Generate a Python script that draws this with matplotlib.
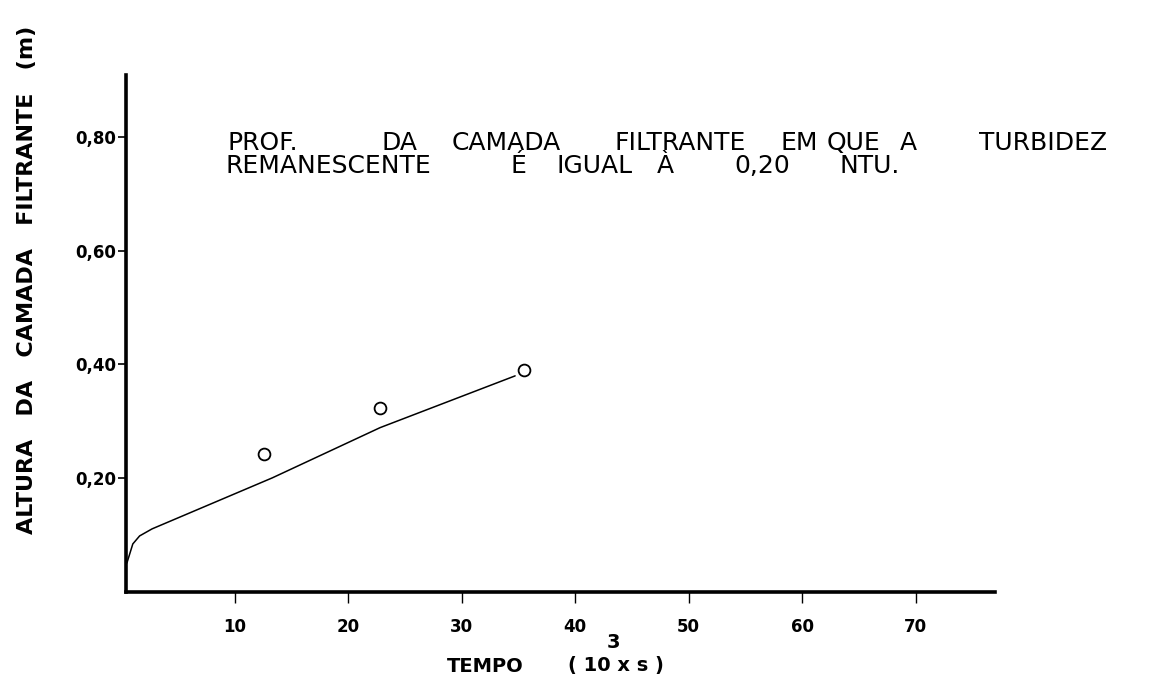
import matplotlib
matplotlib.use("Agg")
import matplotlib.pyplot as plt

# ---- data ----
time_obs = [12.55, 22.8, 35.5]            # 10^3 s
height_obs = [0.243, 0.324, 0.391]        # m

time_curve = [0.48, 1.0, 1.6, 2.7, 13.3, 22.8, 34.7]
height_curve = [0.051, 0.0845, 0.0986, 0.111, 0.2007, 0.289, 0.380]

x_ticks = [10, 20, 30, 40, 50, 60, 70]
x_tick_labels = ["10", "20", "30", "40", "50", "60", "70"]
y_ticks = [0.20, 0.40, 0.60, 0.80]
y_tick_labels = ["0,20", "0,40", "0,60", "0,80"]

# annotation words: (text, x px, baseline y px, horizontal alignment)
note_line1 = [("PROF.", 227, 150, "left"), ("DA", 400, 150, "center"),
              ("CAMADA", 506, 150, "center"), ("FILTRANTE", 680, 150, "center"),
              ("EM", 799, 150, "center"), ("QUE", 853, 150, "center"),
              ("A", 908, 150, "center"), ("TURBIDEZ", 1043, 150, "center")]
note_line2 = [("REMANESCENTE", 225, 173, "left"), ("É", 518, 173, "center"),
              ("IGUAL", 595, 173, "center"), ("À", 665, 173, "center"),
              ("0,20", 762, 173, "center"), ("NTU.", 870, 173, "center")]

W, H = 1162, 682
fig = plt.figure(figsize=(W / 100, H / 100), dpi=100)
fig.patch.set_facecolor("white")

ax_left, ax_right, ax_bottom, ax_top = 126, 995, 592, 75
ax = fig.add_axes([ax_left / W, (H - ax_bottom) / H,
                   (ax_right - ax_left) / W, (ax_bottom - ax_top) / H])
ax.set_xlim(0.4, 77)
ax.set_ylim(0, 0.909)

ax.plot(time_curve, height_curve, color="black", lw=1.1, solid_capstyle="round",
        solid_joinstyle="round")
ax.plot(time_obs, height_obs, "o", mfc="white", mec="black", ms=8.5, mew=1.3)

for s in ("top", "right"):
    ax.spines[s].set_visible(False)
for s in ("left", "bottom"):
    ax.spines[s].set_linewidth(2.6)
    ax.spines[s].set_color("black")

ax.set_xticks(x_ticks)
ax.set_xticklabels(x_tick_labels, fontsize=12, fontweight="bold")
ax.set_yticks(y_ticks)
ax.set_yticklabels(y_tick_labels, fontsize=12, fontweight="bold")
ax.tick_params(axis="x", direction="out", length=8, width=1.0, pad=11)
ax.tick_params(axis="y", direction="out", length=6, width=1.2, pad=1)

# axis titles
fig.text(27 / W, 1 - 280 / H, "ALTURA   DA   CAMADA   FILTRANTE   (m)",
         rotation=90, ha="center", va="center", fontsize=16, fontweight="bold")
fig.text(485 / W, 1 - 666 / H, "TEMPO", ha="center", va="center",
         fontsize=14, fontweight="bold")
fig.text(616 / W, 1 - 666 / H, "( 10 x s )", ha="center", va="center",
         fontsize=14, fontweight="bold")
fig.text(613 / W, 1 - 643 / H, "3", ha="center", va="center",
         fontsize=14, fontweight="bold")

# in-plot note
for word, px, by, ha in note_line1 + note_line2:
    fig.text(px / W, 1 - by / H, word, ha=ha, va="baseline", fontsize=18)

fig.savefig("out.png", dpi=100)
